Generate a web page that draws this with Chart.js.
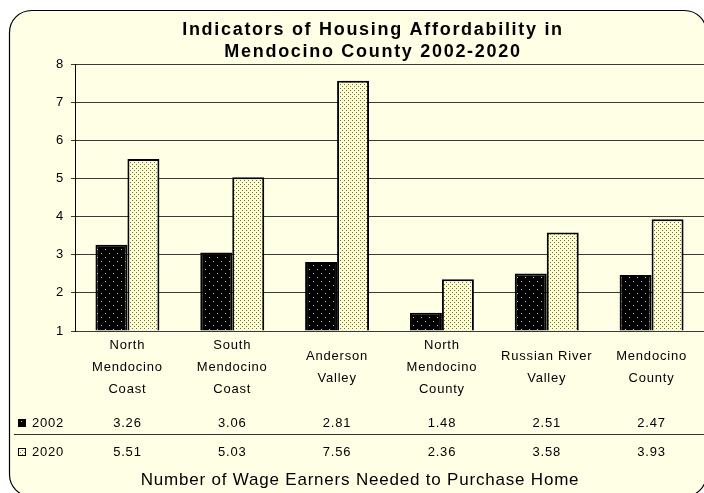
<!DOCTYPE html>
<html>
<head>
<meta charset="utf-8">
<script src="https://cdn.jsdelivr.net/npm/chart.js@4"></script>
<style>
  html, body { margin: 0; padding: 0; background: #fff; }
  #wrap { width: 704px; height: 493px; }
</style>
</head>
<body>
<div id="wrap"><canvas id="chart" width="704" height="493"></canvas></div>
<script>
// data
const categories = [
  ["North", "Mendocino", "Coast"],
  ["South", "Mendocino", "Coast"],
  ["Anderson", "Valley"],
  ["North", "Mendocino", "County"],
  ["Russian River", "Valley"],
  ["Mendocino", "County"]
];
const seriesNames = ["2002", "2020"];
const values2002 = [3.26, 3.06, 2.81, 1.48, 2.51, 2.47];
const values2020 = [5.51, 5.03, 7.56, 2.36, 3.58, 3.93];
const yMin = 1, yMax = 8, yStep = 1;
const chartTitle = ["Indicators of Housing Affordability in", "Mendocino County 2002-2020"];
const xTitle = "Number of Wage Earners Needed to Purchase Home";

const FONT = "'Liberation Sans', Arial, sans-serif";

// fill patterns
function makePattern(bg, dot, size, dots) {
  const c = document.createElement("canvas");
  c.width = size; c.height = size;
  const g = c.getContext("2d");
  g.fillStyle = bg;
  g.fillRect(0, 0, size, size);
  g.fillStyle = dot;
  dots.forEach(([x, y]) => g.fillRect(x, y, 1, 1));
  return g.createPattern(c, "repeat");
}
const ctx = document.getElementById("chart").getContext("2d");
const pat2002 = makePattern("#000", "#c8c8c8", 8, [[1, 1], [5, 5]]);
const pat2020 = makePattern("#ffffd0", "#6a6a55", 4, [[0, 0], [2, 2]]);
const patterns = [pat2002, pat2020];

// the old chart had its text spaced out a little
const spacing = {
  id: "spacing",
  beforeUpdate(chart) { chart.ctx.letterSpacing = "0.8px"; },
  beforeDraw(chart) { chart.ctx.letterSpacing = "0.8px"; }
};

// background box, title and data table under the axis
const frameAndTable = {
  id: "frameAndTable",
  beforeDraw(chart) {
    const c = chart.ctx;
    c.save();
    c.fillStyle = "#fff";
    c.fillRect(0, 0, chart.width, chart.height);
    c.beginPath();
    c.roundRect(9.5, 10.5, 697, 486, 22);
    c.fillStyle = "#ffffe6";
    c.fill();
    c.lineWidth = 1.2;
    c.strokeStyle = "#000";
    c.stroke();
    c.restore();
  },
  afterDraw(chart) {
    const c = chart.ctx;
    const x = chart.scales.x;
    c.save();
    c.textBaseline = "middle";
    c.fillStyle = "#000";

    // title
    c.font = "bold 18px " + FONT;
    c.letterSpacing = "1.7px";
    c.textAlign = "center";
    chartTitle.forEach((t, i) => c.fillText(t, 373, 30 + i * 22));
    c.letterSpacing = "0.8px";

    // data table
    const rows = [423, 452];
    chart.data.datasets.forEach((ds, i) => {
      const y = rows[i];
      c.fillStyle = patterns[i];
      c.fillRect(18, y - 4, 8, 8);
      c.strokeStyle = "#000";
      c.lineWidth = 1;
      c.strokeRect(18.5, y - 3.5, 7, 7);
      c.fillStyle = "#000";
      c.font = "13px " + FONT;
      c.textAlign = "left";
      c.fillText(ds.label, 32, y);
      c.textAlign = "center";
      ds.data.forEach((v, j) => c.fillText(v.toFixed(2), x.getPixelForValue(j), y));
    });
    c.strokeStyle = "#333";
    c.lineWidth = 1;
    c.beginPath();
    c.moveTo(14, 434.5);
    c.lineTo(chart.width, 434.5);
    c.stroke();

    // axis title
    c.fillStyle = "#000";
    c.font = "17px " + FONT;
    c.textAlign = "center";
    c.fillText(xTitle, 360, 480);
    c.restore();
  }
};

new Chart(ctx, {
  type: "bar",
  data: {
    labels: categories,
    datasets: [
      { label: seriesNames[0], data: values2002, backgroundColor: pat2002 },
      { label: seriesNames[1], data: values2020, backgroundColor: pat2020 }
    ]
  },
  options: {
    responsive: false,
    animation: false,
    base: yMin,
    borderColor: "#000",
    borderWidth: 2,
    categoryPercentage: 0.61,
    barPercentage: 1,
    layout: { padding: { left: 40, right: 0, top: 64, bottom: 93 } },
    plugins: {
      legend: { display: false },
      tooltip: { enabled: false },
      title: { display: false }
    },
    scales: {
      x: {
        afterFit(s) { s.height = 69; },
        grid: { display: false, drawTicks: false },
        border: { display: false },
        ticks: {
          color: "#000",
          font: { family: FONT, size: 13, lineHeight: 1.7 },
          padding: 14,
          maxRotation: 0,
          autoSkip: false,
          crossAlign: "center"
        }
      },
      y: {
        min: yMin,
        max: yMax,
        afterFit(s) { s.width = 35; },
        grid: { color: "#3a3a3a", lineWidth: 1, tickLength: 4 },
        border: { color: "#000", width: 1 },
        ticks: {
          stepSize: yStep,
          color: "#000",
          font: { family: FONT, size: 13 },
          padding: 7
        }
      }
    }
  },
  plugins: [spacing, frameAndTable]
});
</script>
</body>
</html>
